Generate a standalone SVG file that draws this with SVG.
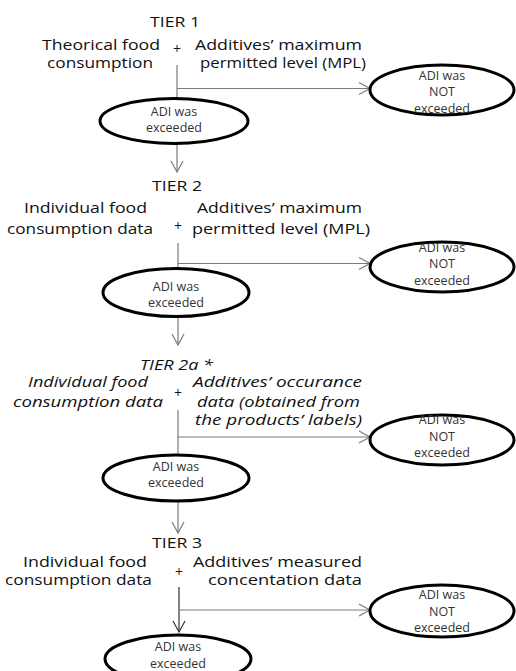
<svg xmlns="http://www.w3.org/2000/svg" width="516" height="671" viewBox="0 0 516 671">
<style>
  .t { font-family: "Open Sans", "DejaVu Sans", sans-serif; font-size: 14.5px; fill: #111; }
  .i { font-style: italic; }
  .p { font-family: "Open Sans", "DejaVu Sans", sans-serif; font-size: 14px; fill: #111; text-anchor: middle; }
  .l { font-family: "Open Sans", "DejaVu Sans", sans-serif; font-size: 12.5px; fill: #333; text-anchor: middle; }
  .e { fill: #fff; stroke: #000; stroke-width: 3; }
  .c { stroke: #7a7a7a; stroke-width: 1.2; fill: none; }
  .cd { stroke: #333; stroke-width: 1.2; fill: none; }
</style>
<defs>
  <marker id="ah" markerUnits="userSpaceOnUse" markerWidth="14" markerHeight="14" viewBox="0 0 14 14" refX="12" refY="7" orient="auto">
    <path d="M1,1 L12,7 L1,13" fill="none" stroke="#7a7a7a" stroke-width="1.2"/>
  </marker>
  <marker id="ahd" markerUnits="userSpaceOnUse" markerWidth="14" markerHeight="14" viewBox="0 0 14 14" refX="12" refY="7" orient="auto">
    <path d="M1,1 L12,7 L1,13" fill="none" stroke="#333" stroke-width="1.2"/>
  </marker>
</defs>
<rect width="516" height="671" fill="#fff"/>

<g id="connectors">
  <!-- Tier 1 -->
  <line class="c" x1="177" y1="65" x2="177" y2="99"/>
  <line class="c" x1="177" y1="88.5" x2="370" y2="88.5" marker-end="url(#ah)"/>
  <line class="c" x1="177" y1="143" x2="177" y2="172" marker-end="url(#ah)"/>
  <!-- Tier 2 -->
  <line class="c" x1="178" y1="243" x2="178" y2="269"/>
  <line class="c" x1="178" y1="263.5" x2="370" y2="263.5" marker-end="url(#ah)"/>
  <line class="c" x1="178" y1="316" x2="178" y2="345" marker-end="url(#ah)"/>
  <!-- Tier 2a -->
  <line class="c" x1="178" y1="410" x2="178" y2="456"/>
  <line class="c" x1="178" y1="437" x2="370" y2="437" marker-end="url(#ah)"/>
  <line class="c" x1="178" y1="501" x2="178" y2="533" marker-end="url(#ah)"/>
  <!-- Tier 3 -->
  <line class="cd" x1="179" y1="587" x2="179" y2="632" marker-end="url(#ahd)"/>
  <line class="c" x1="179" y1="610" x2="370" y2="610" marker-end="url(#ah)"/>
</g>

<g id="tier1">
  <text class="t" x="150" y="27" textLength="50" lengthAdjust="spacingAndGlyphs">TIER 1</text>
  <text class="t" x="42" y="50" textLength="118" lengthAdjust="spacingAndGlyphs">Theorical food</text>
  <text class="t" x="47" y="68" textLength="106" lengthAdjust="spacingAndGlyphs">consumption</text>
  <text class="p" x="177" y="54">+</text>
  <text class="t" x="195" y="49.5" textLength="167" lengthAdjust="spacingAndGlyphs">Additives’ maximum</text>
  <text class="t" x="200" y="68" textLength="166" lengthAdjust="spacingAndGlyphs">permitted level (MPL)</text>
</g>
<g id="exceeded1">
  <ellipse class="e" cx="174" cy="121" rx="74" ry="22.5"/>
  <text class="l" x="174" y="116">ADI was</text>
  <text class="l" x="174" y="132">exceeded</text>
</g>
<g id="not1">
  <ellipse class="e" cx="442" cy="90" rx="72" ry="25"/>
  <text class="l" x="442" y="80">ADI was</text>
  <text class="l" x="442" y="96">NOT</text>
  <text class="l" x="442" y="113">exceeded</text>
</g>

<g id="tier2">
  <text class="t" x="152" y="191" textLength="50" lengthAdjust="spacingAndGlyphs">TIER 2</text>
  <text class="t" x="24" y="213" textLength="123" lengthAdjust="spacingAndGlyphs">Individual food</text>
  <text class="t" x="7" y="234" textLength="146" lengthAdjust="spacingAndGlyphs">consumption data</text>
  <text class="p" x="178" y="231">+</text>
  <text class="t" x="197" y="213" textLength="165" lengthAdjust="spacingAndGlyphs">Additives’ maximum</text>
  <text class="t" x="192" y="234" textLength="178" lengthAdjust="spacingAndGlyphs">permitted level (MPL)</text>
</g>
<g id="exceeded2">
  <ellipse class="e" cx="176" cy="292.5" rx="73" ry="24"/>
  <text class="l" x="176" y="291">ADI was</text>
  <text class="l" x="176" y="307">exceeded</text>
</g>
<g id="not2">
  <ellipse class="e" cx="442" cy="267" rx="72" ry="25"/>
  <text class="l" x="442" y="252">ADI was</text>
  <text class="l" x="442" y="268">NOT</text>
  <text class="l" x="442" y="284.5">exceeded</text>
</g>

<g id="tier2a">
  <text class="t i" x="140" y="370" textLength="73" lengthAdjust="spacingAndGlyphs">TIER 2a *</text>
  <text class="t i" x="28" y="387" textLength="120" lengthAdjust="spacingAndGlyphs">Individual food</text>
  <text class="t i" x="13" y="407" textLength="150" lengthAdjust="spacingAndGlyphs">consumption data</text>
  <text class="p" x="178" y="398">+</text>
  <text class="t i" x="193" y="387" textLength="169" lengthAdjust="spacingAndGlyphs">Additives’ occurance</text>
  <text class="t i" x="197" y="407" textLength="163" lengthAdjust="spacingAndGlyphs">data (obtained from</text>
  <text class="t i" x="195" y="425" textLength="167" lengthAdjust="spacingAndGlyphs">the products’ labels)</text>
</g>
<g id="exceeded3">
  <ellipse class="e" cx="176" cy="478" rx="73" ry="23"/>
  <text class="l" x="176" y="471">ADI was</text>
  <text class="l" x="176" y="487">exceeded</text>
</g>
<g id="not3">
  <ellipse class="e" cx="442" cy="440" rx="72" ry="25"/>
  <text class="l" x="442" y="424">ADI was</text>
  <text class="l" x="442" y="441">NOT</text>
  <text class="l" x="442" y="457">exceeded</text>
</g>

<g id="tier3">
  <text class="t" x="152" y="548" textLength="50" lengthAdjust="spacingAndGlyphs">TIER 3</text>
  <text class="t" x="23" y="567" textLength="124" lengthAdjust="spacingAndGlyphs">Individual food</text>
  <text class="t" x="5" y="585" textLength="147" lengthAdjust="spacingAndGlyphs">consumption data</text>
  <text class="p" x="179" y="577">+</text>
  <text class="t" x="193" y="567" textLength="169" lengthAdjust="spacingAndGlyphs">Additives’ measured</text>
  <text class="t" x="208" y="585" textLength="154" lengthAdjust="spacingAndGlyphs">concentation data</text>
</g>
<g id="exceeded4">
  <ellipse class="e" cx="178" cy="659" rx="73" ry="24"/>
  <text class="l" x="178" y="651">ADI was</text>
  <text class="l" x="178" y="668">exceeded</text>
</g>
<g id="not4">
  <ellipse class="e" cx="442" cy="611" rx="72" ry="26"/>
  <text class="l" x="442" y="599">ADI was</text>
  <text class="l" x="442" y="616">NOT</text>
  <text class="l" x="442" y="632">exceeded</text>
</g>
</svg>
